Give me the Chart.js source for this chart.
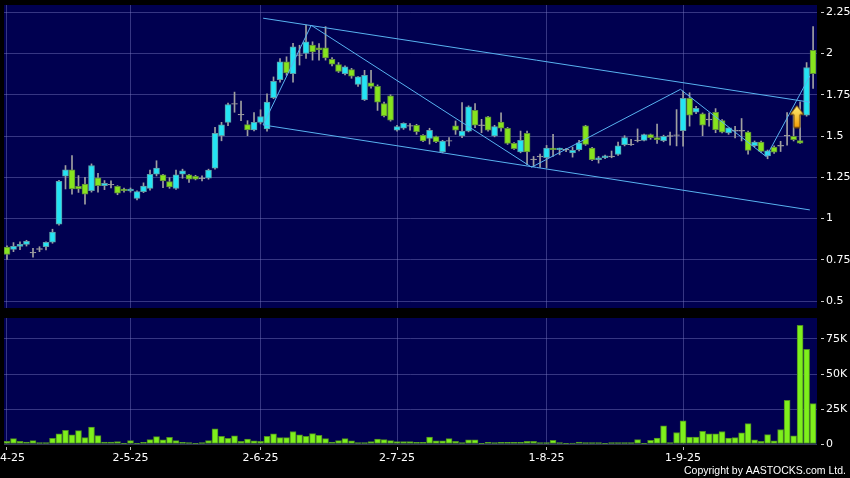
<!DOCTYPE html>
<html>
<head>
<meta charset="utf-8">
<script src="https://cdn.jsdelivr.net/npm/chart.js@4"></script>
<style>
  html, body { margin: 0; padding: 0; background: #000; }
  #wrap { position: relative; width: 850px; height: 478px; overflow: hidden; }
  #price { position: absolute; left: 0; top: 0; }
  #vol { position: absolute; left: 0; top: 312px; }
</style>
</head>
<body>
<div id="wrap">
  <canvas id="price" width="850" height="312"></canvas>
  <canvas id="vol" width="850" height="166"></canvas>
</div>
<script>
// daily candles, 2 Apr 2025 .. end Sep 2025
const opens = [
  .827,.813,.831,.843,.793,.815,.829,.856,.965,1.256,
  1.295,1.195,1.209,1.169,1.246,1.199,1.205,1.195,1.179,1.167,
  1.122,1.163,1.183,1.268,1.264,1.224,1.183,1.268,1.264,1.256,
  1.244,1.244,1.305,1.502,1.583,1.695,1.630,1.569,1.537,1.583,
  1.543,1.732,1.841,1.949,1.878,1.990,2.000,2.051,2.035,2.035,
  1.965,1.933,1.878,1.902,1.813,1.720,1.823,1.801,1.697,1.744,
  1.535,1.547,1.561,1.565,1.504,1.486,1.496,1.404,1.470,1.561,
  1.500,1.530,1.656,1.565,1.616,1.500,1.585,1.547,1.455,1.404,
  1.516,1.358,1.376,1.368,1.427,1.417,1.417,1.398,1.417,1.561,
  1.427,1.356,1.368,1.376,1.388,1.447,1.449,1.474,1.474,1.508,
  1.490,1.472,1.500,1.505,1.533,1.728,1.644,1.634,1.600,1.644,
  1.593,1.518,1.532,1.532,1.524,1.441,1.463,1.380,1.433,1.441,
  1.502,1.498,1.472,1.626,2.020
];
const highs = [
  .835,.854,.858,.868,.819,.829,.858,.935,1.232,1.321,
  1.382,1.260,1.250,1.331,1.274,1.230,1.229,1.199,1.185,1.185,
  1.167,1.216,1.293,1.350,1.268,1.248,1.293,1.299,1.268,1.262,
  1.258,1.299,1.553,1.583,1.699,1.766,1.711,1.593,1.642,1.659,
  1.756,1.858,1.970,1.980,2.061,2.050,2.173,2.071,2.060,2.163,
  1.975,1.945,1.925,1.910,1.860,1.898,1.898,1.810,1.705,1.750,
  1.565,1.580,1.575,1.571,1.508,1.547,1.500,1.474,1.490,1.591,
  1.703,1.683,1.697,1.601,1.620,1.565,1.640,1.552,1.460,1.530,
  1.530,1.376,1.390,1.443,1.510,1.427,1.425,1.433,1.474,1.565,
  1.432,1.376,1.385,1.409,1.463,1.502,1.480,1.543,1.512,1.512,
  1.573,1.505,1.524,1.660,1.772,1.762,1.680,1.640,1.640,1.666,
  1.600,1.549,1.559,1.606,1.530,1.470,1.470,1.415,1.440,1.468,
  1.642,1.640,1.707,1.945,2.163
];
const lows = [
  .752,.799,.811,.833,.766,.799,.809,.850,.960,1.179,
  1.148,1.158,1.087,1.160,1.160,1.175,1.185,1.144,1.160,1.160,
  1.112,1.157,1.171,1.258,1.187,1.183,1.177,1.244,1.218,1.234,
  1.228,1.238,1.299,1.471,1.563,1.644,1.593,1.502,1.531,1.573,
  1.530,1.726,1.827,1.868,1.827,1.930,1.970,1.960,1.960,1.960,
  1.925,1.885,1.870,1.850,1.800,1.715,1.790,1.655,1.615,1.590,
  1.530,1.540,1.535,1.510,1.465,1.451,1.460,1.398,1.440,1.510,
  1.490,1.525,1.551,1.520,1.530,1.495,1.530,1.449,1.418,1.398,
  1.327,1.315,1.310,1.307,1.376,1.386,1.405,1.372,1.409,1.443,
  1.350,1.336,1.362,1.368,1.382,1.440,1.443,1.464,1.470,1.480,
  1.455,1.465,1.445,1.440,1.439,1.560,1.635,1.502,1.559,1.520,
  1.518,1.510,1.488,1.470,1.390,1.435,1.400,1.362,1.395,1.406,
  1.445,1.470,1.455,1.620,1.789
];
const closes = [
  .783,.831,.843,.862,.793,.815,.856,.917,1.226,1.295,
  1.179,1.179,1.148,1.321,1.199,1.213,1.205,1.154,1.169,1.179,
  1.163,1.197,1.268,1.305,1.228,1.191,1.264,1.289,1.238,1.238,
  1.244,1.293,1.516,1.567,1.691,1.695,1.630,1.537,1.583,1.618,
  1.705,1.831,1.949,1.882,2.041,1.990,2.071,2.010,2.022,1.974,
  1.935,1.892,1.919,1.862,1.858,1.868,1.801,1.705,1.622,1.596,
  1.557,1.577,1.561,1.526,1.470,1.535,1.465,1.470,1.470,1.535,
  1.530,1.677,1.565,1.565,1.535,1.557,1.547,1.455,1.423,1.474,
  1.404,1.358,1.376,1.427,1.417,1.427,1.417,1.413,1.459,1.449,
  1.356,1.368,1.380,1.376,1.441,1.490,1.449,1.474,1.508,1.490,
  1.478,1.498,1.500,1.505,1.728,1.626,1.667,1.565,1.600,1.539,
  1.524,1.549,1.532,1.532,1.413,1.463,1.407,1.410,1.402,1.441,
  1.502,1.478,1.457,1.915,1.878
];
const volumes = [
  1900,3800,1900,1400,2400,1000,1000,4100,7200,9800,
  6500,9600,4600,12000,6000,1400,1400,1700,500,2400,
  500,1200,3100,5300,2900,4800,2400,1200,1000,200,
  1000,2400,10800,5500,4100,5800,1900,3600,2200,1900,
  5500,7200,4600,4600,8900,6500,5500,7400,6200,3800,
  1400,2400,3800,2200,1000,1000,1700,3600,3100,2400,
  1700,1700,1700,1200,1200,5000,2200,2200,3800,1900,
  1000,2900,2900,500,1200,1000,1200,1200,1200,1200,
  1900,1900,1000,1000,2600,1000,500,700,1400,1000,
  1000,1000,200,1000,1000,1000,1000,3100,200,2600,
  4300,13000,1000,8200,16600,5000,5000,9100,7200,7200,
  8900,4300,4600,7900,14600,2900,1900,6700,2200,10300,
  31200,5800,84700,67700,28800
];

// month marks on the time axis (candle index)
const dateIdx = [0, 19, 39, 60, 83, 104];
const dateLabels = ['2-4-25', '2-5-25', '2-6-25', '2-7-25', '1-8-25', '1-9-25'];
const priceTicks = [0.5, 0.75, 1, 1.25, 1.5, 1.75, 2, 2.25];
const volTicks = [0, 25000, 50000, 75000];

// drawn trend lines: [candle index, price]
const channelTop = [[39.4, 2.214], [123.5, 1.705]];
const channelBottom = [[39.4, 1.567], [123.5, 1.052]];
const zigzag = [[39.4, 1.567], [46.8, 2.171], [80.7, 1.311], [103.6, 1.783], [116.8, 1.375], [123.5, 1.864]];
const signalArrow = [[121.5, 1.618]];

const xMin = -0.46, xMax = 124.6;
const navy = '#000050';
const gridCol = 'rgba(120,120,190,0.45)';
const font = { family: 'DejaVu Sans', size: 11 };

const plotBg = {
  id: 'plotBg',
  beforeDraw(chart) {
    const { ctx, chartArea: a } = chart;
    ctx.save();
    ctx.fillStyle = navy;
    ctx.fillRect(a.left, a.top, a.width, a.height);
    ctx.restore();
  }
};

function makeArrow() {
  const c = document.createElement('canvas');
  c.width = 16; c.height = 24;
  const g = c.getContext('2d');
  const grad = g.createLinearGradient(0, 0, 0, 24);
  grad.addColorStop(0, '#fff37a');
  grad.addColorStop(1, '#f49a00');
  g.beginPath();
  g.moveTo(8, 1); g.lineTo(15, 10); g.lineTo(11, 10); g.lineTo(11, 23);
  g.lineTo(5, 23); g.lineTo(5, 10); g.lineTo(1, 10); g.closePath();
  g.fillStyle = grad; g.fill();
  g.strokeStyle = '#6b4000'; g.lineWidth = 1; g.stroke();
  return c;
}

const idx = closes.map((_, i) => i);
const isDoji = i => Math.abs(closes[i] - opens[i]) < 0.004;
const bodyData = idx.map(i => {
  let lo = Math.min(opens[i], closes[i]), hi = Math.max(opens[i], closes[i]);
  if (isDoji(i)) { lo = opens[i] - 0.002; hi = opens[i] + 0.002; }
  return { x: i, y: [lo, hi] };
});
const bodyFill = idx.map(i => isDoji(i) ? '#a0a0a0' : (closes[i] > opens[i] ? '#24e4f4' : '#86e41e'));
const bodyEdge = idx.map(i => isDoji(i) ? '#a0a0a0' : (closes[i] > opens[i] ? '#5c9ea8' : '#5f8e3a'));
const toPts = arr => arr.map(p => ({ x: p[0], y: p[1] }));
const trendLine = arr => ({
  type: 'line', data: toPts(arr), borderColor: '#58b2f0', borderWidth: 1,
  pointRadius: 0, fill: false, tension: 0, order: 0
});

const xScale = (showLabels) => ({
  type: 'linear', min: xMin, max: xMax, offset: false,
  afterBuildTicks: s => { s.ticks = dateIdx.map(v => ({ value: v })); },
  afterFit: s => {
    s.paddingLeft = 0; s.paddingRight = 0;
    s.height = showLabels ? 22 : 0;
  },
  border: { display: false },
  grid: {
    offset: false, color: gridCol, borderDash: [3, 3], drawTicks: showLabels,
    tickLength: 6, tickColor: '#bbb', tickBorderDash: [0, 3, 3, 20]
  },
  ticks: {
    display: showLabels, autoSkip: false, maxRotation: 0, color: '#fff', font, padding: 2,
    callback: v => dateLabels[dateIdx.indexOf(v)]
  }
});

const yScale = (ticksArr, min, max, fmt) => ({
  position: 'right', min, max,
  afterBuildTicks: s => { s.ticks = ticksArr.map(v => ({ value: v })); },
  afterFit: s => { s.width = 33; s.paddingTop = 0; s.paddingBottom = 0; },
  border: { display: false },
  grid: {
    color: gridCol, borderDash: [3, 3], drawTicks: true,
    tickLength: 7, tickColor: '#ccc', tickBorderDash: [0, 4, 3, 20]
  },
  ticks: { color: '#fff', font, padding: 2, callback: fmt }
});

new Chart(document.getElementById('price'), {
  type: 'bar',
  data: {
    datasets: [
      {
        type: 'scatter', data: toPts(signalArrow), pointStyle: makeArrow(),
        pointRadius: 12, order: -1
      },
      trendLine(channelTop),
      trendLine(channelBottom),
      trendLine(zigzag),
      {
        data: bodyData, backgroundColor: bodyFill, borderColor: bodyEdge,
        borderWidth: 1, borderSkipped: false, barThickness: 6, grouped: false, order: 1
      },
      {
        data: idx.map(i => ({ x: i, y: [lows[i], highs[i]] })),
        backgroundColor: '#a0a0a0', barThickness: 1, grouped: false, order: 2
      }
    ]
  },
  options: {
    responsive: false, animation: false, devicePixelRatio: 1,
    layout: { autoPadding: false, padding: { left: 4, top: 5, right: 0, bottom: 4 } },
    plugins: { legend: { display: false }, tooltip: { enabled: false } },
    scales: {
      x: xScale(false),
      y: yScale(priceTicks, 0.4576, 2.294, v => String(v))
    }
  },
  plugins: [plotBg]
});

const copyright = {
  id: 'copyright',
  afterDraw(chart) {
    const ctx = chart.ctx;
    ctx.save();
    ctx.fillStyle = '#fff';
    ctx.font = '10.5px "Liberation Sans"';
    ctx.textAlign = 'right';
    ctx.textBaseline = 'middle';
    ctx.fillText('Copyright by AASTOCKS.com Ltd.', 846, chart.height - 7);
    ctx.restore();
  }
};

new Chart(document.getElementById('vol'), {
  type: 'bar',
  data: {
    datasets: [{
      data: idx.map(i => ({ x: i, y: volumes[i] })),
      backgroundColor: '#7ef01c', borderColor: '#4f9020', borderWidth: 1,
      borderSkipped: false, barThickness: 6
    }]
  },
  options: {
    responsive: false, animation: false, devicePixelRatio: 1,
    layout: { autoPadding: false, padding: { left: 4, top: 6, right: 0, bottom: 12 } },
    plugins: { legend: { display: false }, tooltip: { enabled: false } },
    scales: {
      x: xScale(true),
      y: yScale(volTicks, 0, 90000, v => v === 0 ? '0' : (v / 1000) + 'K')
    }
  },
  plugins: [plotBg, copyright]
});
</script>
</body>
</html>
